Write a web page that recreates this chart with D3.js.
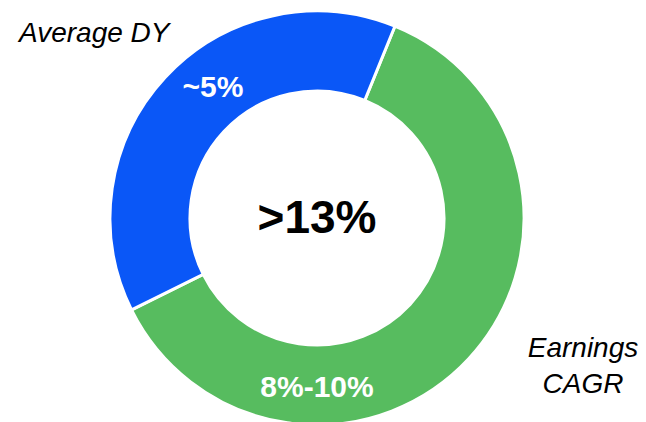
<!DOCTYPE html>
<html><head><meta charset="utf-8">
<script src="https://cdn.jsdelivr.net/npm/d3@7"></script>
<style>html,body{margin:0;padding:0;background:#fff;}svg{display:block;}</style>
</head><body>
<svg id="chart" width="646" height="422"></svg>
<script>
const categories = ["Earnings CAGR", "Average DY"];
const values = [8, 5];
const sliceLabels = ["8%-10%", "~5%"];
const colors = ["#57BC5F", "#0A57F7"];
const centerLabel = ">13%";

const svg = d3.select("#chart");
const cx = 317, cy = 218, rOuter = 207, rInner = 127;
const startDeg = 22.1;
const pie = d3.pie().sort(null).value(d => d.v)
  .startAngle(startDeg * Math.PI / 180)
  .endAngle((startDeg + 360) * Math.PI / 180);
const data = categories.map((c, i) => ({c, v: values[i], lab: sliceLabels[i], col: colors[i]}));
const arcs = pie(data);
const arc = d3.arc().innerRadius(rInner).outerRadius(rOuter);
const g = svg.append("g").attr("transform", `translate(${cx},${cy})`);
g.selectAll("path").data(arcs).enter().append("path")
  .attr("d", arc).attr("fill", d => d.data.col)
  .attr("stroke", "#fff").attr("stroke-width", 3);

const font = "'Liberation Sans', Arial, sans-serif";
// slice labels
const labelPos = [[0, 179], [-104, -121]];
g.selectAll("text.sl").data(arcs).enter().append("text")
  .attr("class", "sl")
  .attr("x", (d, i) => labelPos[i][0]).attr("y", (d, i) => labelPos[i][1])
  .attr("text-anchor", "middle").attr("fill", "#fff")
  .attr("font-family", font).attr("font-weight", "bold").attr("font-size", 30)
  .text(d => d.data.lab);

g.append("text").attr("x", 0).attr("y", 15).attr("text-anchor", "middle")
  .attr("font-family", font).attr("font-weight", "bold").attr("font-size", 46)
  .attr("fill", "#000").text(centerLabel);

svg.append("text").attr("x", 19).attr("y", 42)
  .attr("font-family", font).attr("font-style", "italic").attr("font-size", 28)
  .attr("fill", "#000").text(categories[1]);

const ec = categories[0].split(" ");
svg.append("text").attr("x", 583).attr("y", 357).attr("text-anchor", "middle")
  .attr("font-family", font).attr("font-style", "italic").attr("font-size", 28)
  .attr("fill", "#000").text(ec[0]);
svg.append("text").attr("x", 583).attr("y", 393).attr("text-anchor", "middle")
  .attr("font-family", font).attr("font-style", "italic").attr("font-size", 28)
  .attr("fill", "#000").text(ec[1]);
</script>
</body></html>
